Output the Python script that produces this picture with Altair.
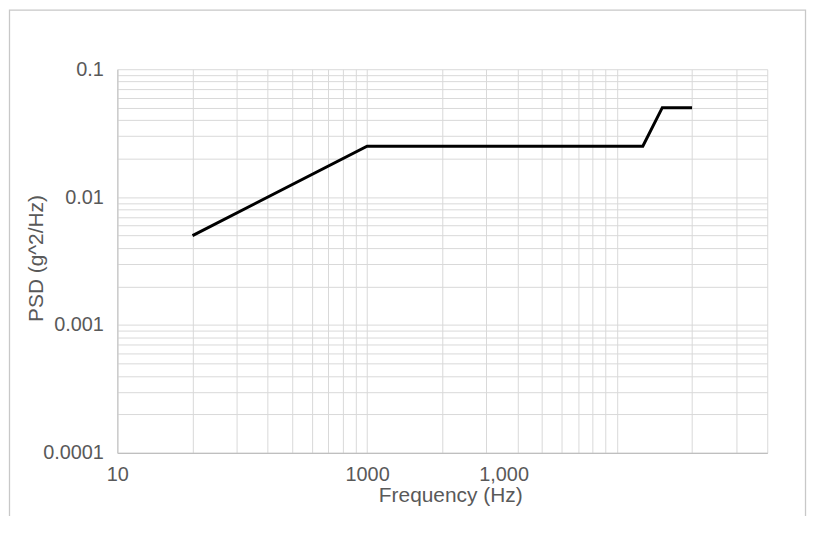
import altair as alt
import pandas as pd

# Series
freq = [20, 100, 1270, 1520, 2000]
psd = [0.005, 0.025, 0.025, 0.05, 0.05]

# Axis ticks / labels
x_tick_values = [10, 100, 1000]
x_tick_labels = ["10", "1000", "1,000"]
y_tick_values = [0.0001, 0.001, 0.01, 0.1]
y_tick_labels = ["0.0001", "0.001", "0.01", "0.1"]

x_decades = [10, 100, 1000]
y_decades = [0.0001, 0.001, 0.01]
multipliers = [1, 2, 3, 4, 5, 6, 7, 8, 9]

x_grid = [m * d for d in x_decades for m in multipliers if m * d <= 4000]
y_grid = [round(m * d, 6) for d in y_decades for m in multipliers] + [0.1]

df = pd.DataFrame({"freq": freq, "psd": psd})

TEXT = "#595959"
FONT = "Liberation Sans"


def label_expr(values, labels):
    expr = "''"
    for v, l in reversed(list(zip(values, labels))):
        expr = f"abs(datum.value - {v}) < {v} * 1e-6 ? '{l}' : ({expr})"
    return expr


x_axis = alt.Axis(
    values=x_grid,
    labelExpr=label_expr(x_tick_values, x_tick_labels),
    labelOverlap=False,
    labelFlush=False,
    labelOffset={"condition": {"test": "datum.value == 1000", "value": -114}, "value": 0},
    labelBaseline="alphabetic",
    labelPadding=27.5,
    labelFont=FONT,
    labelFontSize=20,
    labelColor=TEXT,
    ticks=False,
    tickSize=0,
    grid=True,
    gridColor="#d9d9d9",
    gridWidth=1,
    domainColor="#bfbfbf",
    domainWidth=1.3,
    title="Frequency (Hz)",
    titleFont=FONT,
    titleFontSize=21,
    titleFontWeight="normal",
    titleColor=TEXT,
    titleX=335,
    titleY=48.5,
    titleBaseline="alphabetic",
    titleAlign="center",
)

y_axis = alt.Axis(
    values=y_grid,
    labelExpr=label_expr(y_tick_values, y_tick_labels),
    labelOverlap=False,
    labelFlush=False,
    labelBaseline="middle",
    labelPadding=14,
    labelFont=FONT,
    labelFontSize=20,
    labelColor=TEXT,
    ticks=False,
    tickSize=0,
    grid=True,
    gridColor="#d9d9d9",
    gridWidth=1,
    domainColor="#c8c8c8",
    domainWidth=1.3,
    title="PSD (g^2/Hz)",
    titleFont=FONT,
    titleFontSize=21,
    titleFontWeight="normal",
    titleColor=TEXT,
    titleX=-75,
    titleY=190,
    titleBaseline="alphabetic",
    titleAlign="center",
)

line = alt.Chart(df).mark_line(color="#000000", strokeWidth=3, strokeJoin="miter").encode(
    x=alt.X("freq:Q", scale=alt.Scale(type="log", domain=[10, 4000], nice=False), axis=x_axis),
    y=alt.Y("psd:Q", scale=alt.Scale(type="log", domain=[0.0001, 0.1], nice=False), axis=y_axis),
)

frame = alt.Chart(alt.Data(values=[{}])).mark_rect(
    fill="transparent", stroke="#c8c8c8", strokeWidth=1.3
).encode(
    x=alt.value(-108.5),
    x2=alt.value(692.5),
    y=alt.value(-59.5),
    y2=alt.value(700),
)

chart = alt.layer(frame, line).properties(
    width=654,
    height=386,
    padding={"left": 110, "top": 60, "right": 40, "bottom": 62},
    autosize=alt.AutoSizeParams(type="none"),
    background="white",
).configure_view(strokeWidth=0)

chart.save("out.html", embed_options={"renderer": "svg", "actions": False})
